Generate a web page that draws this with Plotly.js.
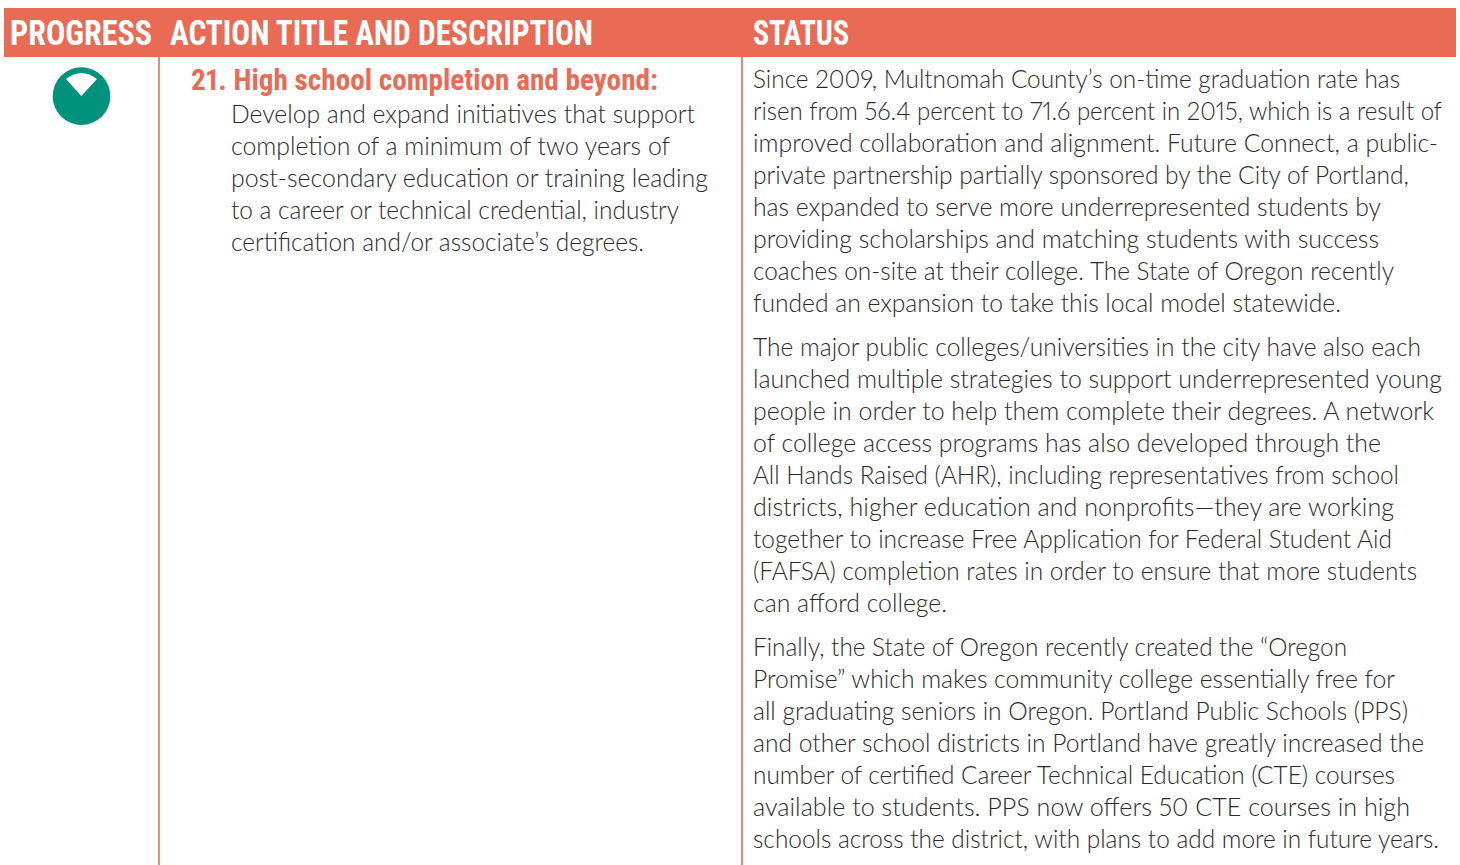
<!DOCTYPE html><html><head><meta charset="utf-8"><script src="https://cdn.plot.ly/plotly-3.0.1.min.js"></script><style>html,body{margin:0;padding:0;background:#fff}.annotation-text{font-variant-numeric:proportional-nums;font-feature-settings:"pnum" 1}</style></head><body><div id="c" style="width:1460px;height:865px"></div><script>
const headers=["PROGRESS","ACTION TITLE AND DESCRIPTION","STATUS"];
const headerX=[10,170,753];
const headerRight=[152,593,849];
const actionTitle="21. High school completion and beyond:";
const actionLines=["Develop and expand initiatives that support","completion of a minimum of two years of","post-secondary education or training leading","to a career or technical credential, industry","certification and/or associate’s degrees."];
const actionY=[115,147,179,211,243];
const actionRight=[695,670,708,679,644];
const statusLines=["Since 2009, Multnomah County’s on-time graduation rate has","risen from 56.4 percent to 71.6 percent in 2015, which is a result of","improved collaboration and alignment. Future Connect, a public-","private partnership partially sponsored by the City of Portland,","has expanded to serve more underrepresented students by","providing scholarships and matching students with success","coaches on-site at their college. The State of Oregon recently","funded an expansion to take this local model statewide.","The major public colleges/universities in the city have also each","launched multiple strategies to support underrepresented young","people in order to help them complete their degrees. A network","of college access programs has also developed through the","All Hands Raised (AHR), including representatives from school","districts, higher education and nonprofits—they are working","together to increase Free Application for Federal Student Aid","(FAFSA) completion rates in order to ensure that more students","can afford college.","Finally, the State of Oregon recently created the “Oregon","Promise” which makes community college essentially free for","all graduating seniors in Oregon. Portland Public Schools (PPS)","and other school districts in Portland have greatly increased the","number of certified Career Technical Education (CTE) courses","available to students. PPS now offers 50 CTE courses in high","schools across the district, with plans to add more in future years."];
const statusY=[80,112,144,176,208,240,272,304,348,380,412,444,476,508,540,572,604,648,680,712,744,776,808,840];
const statusRight=[1400,1442,1438,1409,1381,1379,1394,1341,1421,1442,1434,1381,1399,1394,1392,1417,947,1347,1395,1408,1424,1395,1410,1439];
const red="#e96b56",line="#ee8778",green="#00927c",body="#2a2a2c";
const bodyFont="Lato,sans-serif",headFont="'Roboto Condensed','DejaVu Sans Condensed',sans-serif";
const ann=[],fit={};
const add=(x,y,right,text,size,color,family,weight)=>{fit[text]=[x,right];ann.push({x:x-2,y:y-2,xref:"x",yref:"y",text,showarrow:false,xanchor:"left",yanchor:"middle",font:{size,color,family,weight}});};
headers.forEach((h,i)=>add(headerX[i],35,headerRight[i],h,35,"#fff",headFont,700));
add(191,82,658,actionTitle,29,red,headFont,700);
actionLines.forEach((t,i)=>add(231,actionY[i],actionRight[i],t,24.6,body,bodyFont,300));
statusLines.forEach((t,i)=>add(753,statusY[i],statusRight[i],t,24.6,body,bodyFont,300));
const shapes=[
{type:"rect",x0:4,x1:1456,y0:8,y1:57,fillcolor:red,line:{width:0}},
{type:"line",x0:159,x1:159,y0:57,y1:865,line:{color:line,width:2}},
{type:"line",x0:742,x1:742,y0:57,y1:865,line:{color:line,width:2}},
{type:"circle",x0:52.7,x1:110.3,y0:67.3,y1:125,fillcolor:green,line:{width:0}},
{type:"path",path:"M 66 79 Q 81.5 67 97 79 L 81.3 96 Z",fillcolor:"#fff",line:{width:0}}
];
Plotly.newPlot("c",[{x:[0],y:[0],mode:"markers",marker:{opacity:0},hoverinfo:"skip",showlegend:false}],{width:1460,height:865,margin:{l:0,r:0,t:0,b:0},paper_bgcolor:"#fff",plot_bgcolor:"#fff",showlegend:false,xaxis:{range:[0,1460],visible:false,fixedrange:true},yaxis:{range:[865,0],visible:false,fixedrange:true},shapes,annotations:ann},{displayModeBar:false,staticPlot:true}).then(()=>{
 document.querySelectorAll(".annotation-text").forEach(el=>{
  const f=fit[el.textContent];
  if(f){
   el.setAttribute("textLength",f[1]-f[0]);
   el.setAttribute("lengthAdjust","spacingAndGlyphs");
   const dx=f[0]-el.getBoundingClientRect().left;
   el.setAttribute("x",(+el.getAttribute("x")||0)+dx);
  }
 });
});
</script></body></html>
